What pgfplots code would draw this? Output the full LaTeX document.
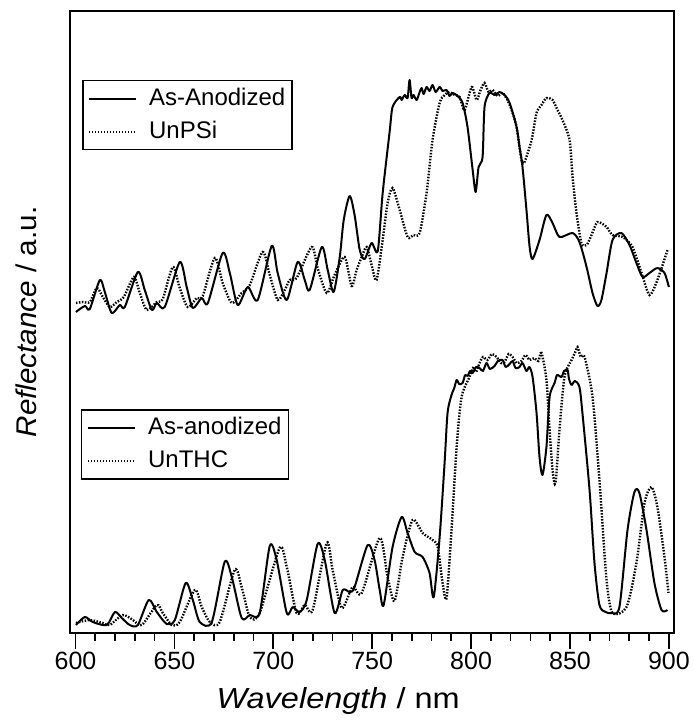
\documentclass[border=0pt]{standalone}
\usepackage{fontspec}
\setmainfont{Liberation Sans}
\usepackage{pgfplots}
\pgfplotsset{compat=1.18}
\begin{document}
\begin{tikzpicture}
\useasboundingbox (-70pt,-88pt) rectangle (624pt,633pt);
\pgfplotsset{
  base/.style={
    width=604pt,height=622pt,scale only axis,
    at={(0pt,0pt)},anchor=south west,
    xmin=597.2,xmax=902.6,ymin=0,ymax=622,
    legend cell align=left,
    legend image code/.code={\draw[##1] (0pt,0pt) -- (47pt,0pt);},
    legend style={draw=black,line width=1.5pt,fill=white,anchor=north west,
      inner xsep=5pt,inner ysep=5pt,
      row sep=7pt,
      nodes={font=\fontsize{24}{28}\selectfont,inner sep=2pt,text height=18pt,text depth=4pt},
      /tikz/column 1/.style={column sep=10pt}},
  },
  solidc/.style={black,line width=2pt,line join=round,smooth,tension=0.45},
  dotc/.style={black,line width=2.4pt,dash pattern=on 1.5pt off 1.5pt,smooth,tension=0.45},
}
\begin{axis}[base,
  axis line style={line width=1.8pt},
  xtick={600,650,...,900},minor x tick num=4,
  ytick=\empty,
  xtick pos=bottom,
  xtick align=outside,
  major tick length=16pt,minor tick length=8pt,
  every tick/.append style={black,line width=1.7pt},
  xticklabel style={font=\fontsize{25}{30}\selectfont},
  /pgf/number format/assume math mode=true,
  /pgf/number format/set thousands separator={},
  xlabel={\scalebox{1.12}[1]{\textit{Wavelength} / nm}},
  ylabel={\scalebox{1.04}[1]{\textit{Reflectance} / a.u.}},
  xlabel style={font=\fontsize{29}{33}\selectfont,at={(axis description cs:0.444,-0.1206)},anchor=base,inner sep=0pt},
  ylabel style={font=\fontsize{28.5}{33}\selectfont,at={(axis description cs:-0.055,0.5)},anchor=base,inner sep=0pt},
  legend style={at={(axis description cs:0.0199,0.8891)}},
]
\addplot[solidc] coordinates {
(600.2,321)(604.7,327)(607.2,324)(612.3,353)(614.8,341)(618.3,320)(622.4,328)(624.9,326)
(631.5,361)(635.0,343)(638.6,323)(641.1,330)(645.1,326)(652.7,371)(656.2,346)(659.3,325)
(663.8,335)(666.9,330)(674.4,380)(678.0,360)(682.0,328)(687.1,346)(692.1,333)(699.2,387)
(702.2,360)(706.8,333)(712.3,371)(715.9,353)(718.4,343)(724.5,386)(727.5,363)(730.5,341)
(733.6,376)(735.6,413)(738.6,437)(741.1,418)(743.7,383)(746.2,374)(749.7,390)(752.8,382)
(755.3,440)(758.8,501)(760.3,526)(763.9,536)(764.9,533)(766.4,538)(767.9,535)(768.9,553)
(769.9,535)(770.9,538)(772.5,533)(774.0,541)(775.0,545)(776.0,539)(777.5,546)(779.0,542)
(780.5,548)(782.1,541)(784.1,546)(785.6,542)(787.6,543)(789.1,537)(790.7,540)(793.2,537)
(795.7,530)(798.2,506)(800.8,463)(802.3,441)(803.8,466)(805.8,476)(806.8,526)(809.3,540)
(811.9,538)(814.4,541)(816.9,538)(819.5,530)(823.0,506)(824.5,486)(826.0,466)(828.0,423)
(829.6,386)(831.1,374)(834.6,393)(838.1,418)(841.2,410)(844.7,396)(851.3,400)(854.8,391)
(858.4,366)(861.4,340)(863.9,327)(865.9,333)(868.5,360)(871.5,393)(876.0,400)(880.1,388)
(883.6,370)(886.7,356)(890.2,360)(894.2,365)(897.8,360)(900.0,346)
};
\addlegendentry{As-Anodized}
\addplot[dotc] coordinates {
(600.2,330)(603.7,331)(607.2,331)(610.8,345)(613.8,336)(617.3,326)(620.9,331)(624.4,336)
(629.5,356)(632.5,340)(636.0,323)(641.1,331)(644.1,334)(649.2,366)(652.7,345)(656.7,326)
(661.3,335)(664.3,337)(670.4,375)(674.4,350)(679.0,330)(684.0,340)(688.1,348)(694.6,381)
(698.2,358)(702.2,333)(705.8,343)(708.3,353)(711.8,355)(719.4,386)(722.4,365)(727.0,340)
(731.0,358)(736.1,376)(739.6,347)(742.1,363)(744.7,376)(747.2,386)(749.7,368)(752.2,353)
(755.3,393)(757.8,430)(760.3,445)(763.9,423)(767.9,396)(770.9,398)(774.0,400)(777.5,440)
(780.5,493)(784.1,530)(786.6,538)(789.1,541)(791.7,538)(794.2,536)(796.7,523)(800.3,546)
(802.8,533)(804.8,543)(806.8,550)(808.8,541)(810.9,543)(813.4,537)(815.9,540)(818.4,533)
(820.5,523)(823.0,506)(825.5,473)(827.0,471)(830.6,493)(833.1,520)(835.6,528)(838.1,535)
(841.2,533)(843.7,523)(846.2,513)(849.8,493)(851.3,456)(853.3,420)(855.8,390)(858.4,388)
(860.9,398)(863.9,411)(868.5,406)(871.5,398)(876.6,396)(881.6,386)(886.2,360)(890.2,338)
(894.2,353)(899.3,383)
};
\addlegendentry{UnPSi}
\end{axis}
\begin{axis}[base,hide axis,
  legend style={at={(axis description cs:0.0182,0.3601)}},
]
\addplot[solidc] coordinates {
(600.2,8)(604.7,16)(608.7,11)(615.8,8)(619.9,21)(623.4,15)(627.4,8)(631.5,8)
(637.0,33)(641.1,21)(646.1,9)(650.2,13)(655.7,50)(659.3,33)(662.8,11)(668.9,11)
(675.4,71)(679.0,56)(684.0,15)(688.1,18)(693.1,20)(698.2,87)(701.7,73)(706.8,20)
(709.8,26)(713.3,21)(716.9,33)(722.4,89)(726.0,73)(731.0,20)(735.1,43)(738.6,41)
(741.1,46)(747.7,88)(751.2,73)(753.8,43)(755.8,28)(760.3,86)(764.9,116)(767.9,100)
(771.5,81)(775.5,76)(779.0,60)(781.1,36)(784.1,96)(786.6,170)(788.1,220)(790.1,238)
(791.5,245)(792.7,253)(794.0,249)(795.7,250)(797.0,258)(798.2,257)(799.5,262)(800.8,260)
(802.5,266)(804.3,265)(806.0,262)(807.8,270)(809.5,264)(811.9,267)(813.5,272)(815.9,273)
(817.5,266)(819.5,269)(821.0,272)(822.5,265)(824.5,266)(826.0,270)(828.0,262)(829.5,266)
(831.1,256)(833.1,220)(834.6,176)(836.1,158)(838.1,186)
(839.7,236)(842.2,250)(843.5,258)(845.7,256)(847.0,262)(848.8,263)(849.5,254)(850.8,248)
(852.5,252)(854.8,246)(856.3,220)(859.9,143)
(862.4,70)(864.9,28)(868.0,21)(871.0,20)(875.0,26)(879.1,103)(882.6,141)(885.1,140)
(888.7,103)(892.7,50)(896.3,23)(899.3,23)
};
\addlegendentry{As-anodized}
\addplot[dotc] coordinates {
(600.2,10)(607.2,13)(613.8,10)(617.3,8)(623.9,18)(629.0,13)(633.5,8)(641.1,28)
(644.1,20)(648.7,8)(652.7,11)(660.3,43)(663.8,26)(667.9,11)(672.9,11)(680.5,63)
(684.0,46)(688.1,16)(693.1,20)(703.2,85)(706.8,66)(711.8,20)(715.9,28)(719.9,23)
(727.0,90)(730.0,63)(734.6,25)(740.1,46)(744.7,40)(753.8,95)(757.8,56)(761.3,32)
(765.4,76)(770.4,113)(775.5,100)(780.5,93)(783.1,86)(785.6,50)(787.6,35)(790.1,103)
(792.7,186)(795.2,236)(799.2,256)(801.0,265)(802.5,261)(804.3,270)(806.0,276)(808.3,273)
(810.5,279)(812.9,276)(815.0,270)(816.9,271)(819.0,279)(821.0,276)(823.0,270)(825.5,272)
(827.5,278)(829.6,273)(832.0,275)(834.0,272)(835.6,280)(838.1,253)(839.7,203)(841.2,163)
(842.7,150)(844.7,203)(847.2,256)(850.8,273)(852.5,280)(853.8,286)(855.5,276)(857.4,276)
(861.4,236)(864.9,153)(868.5,53)(871.5,20)
(878.6,26)(883.6,70)(887.7,130)(891.2,146)(894.2,126)(897.8,76)(899.8,40)
};
\addlegendentry{UnTHC}
\end{axis}
\end{tikzpicture}
\end{document}
